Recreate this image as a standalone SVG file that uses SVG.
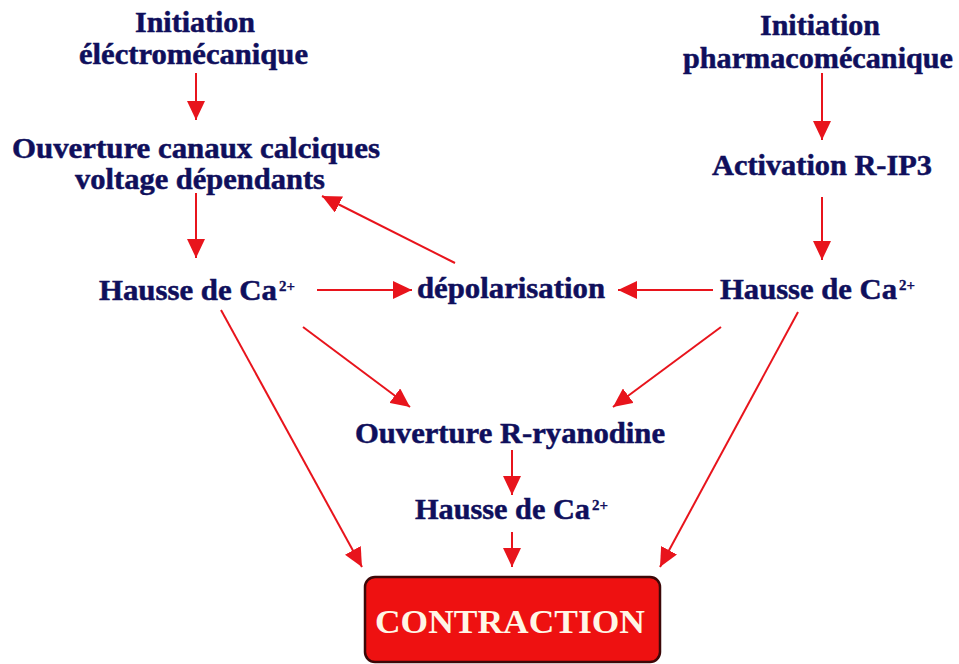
<svg xmlns="http://www.w3.org/2000/svg" width="959" height="664" viewBox="0 0 959 664">
<defs>
<style>
.t{font-family:"Liberation Serif","Times New Roman",serif;font-weight:bold;font-size:29px;fill:#0f0f5c;stroke:#0f0f5c;stroke-width:0.5;}
.sup{font-family:"Liberation Serif","Times New Roman",serif;font-weight:bold;font-size:15px;fill:#0f0f5c;stroke:#0f0f5c;stroke-width:0.3;}
.c{stroke:#e8141c;stroke-width:2;fill:none;marker-end:url(#ah);}
.box{fill:#ee1111;stroke:#3c0808;stroke-width:2.5;}
.ct{font-family:"Liberation Serif","Times New Roman",serif;font-weight:bold;font-size:34px;fill:#fff6e6;}
</style>
<marker id="ah" viewBox="0 0 19 18" refX="19" refY="9" markerWidth="19" markerHeight="18" markerUnits="userSpaceOnUse" orient="auto">
<path d="M0,0 L19,9 L0,18 z" fill="#e8141c"/>
</marker>
</defs>
<rect width="959" height="664" fill="#ffffff"/>
<g id="connectors">
<line class="c" x1="196" y1="73" x2="196" y2="120"/>
<line class="c" x1="196" y1="193" x2="196" y2="258"/>
<line class="c" x1="455" y1="263" x2="322" y2="196"/>
<line class="c" x1="317" y1="290" x2="412" y2="290"/>
<line class="c" x1="713" y1="290" x2="618" y2="290"/>
<line class="c" x1="822" y1="73" x2="822" y2="140"/>
<line class="c" x1="822" y1="197" x2="822" y2="260"/>
<line class="c" x1="303" y1="327" x2="410" y2="407"/>
<line class="c" x1="721" y1="327" x2="613" y2="407"/>
<line class="c" x1="221" y1="310" x2="362" y2="567"/>
<line class="c" x1="798" y1="312" x2="660" y2="567"/>
<line class="c" x1="512" y1="450" x2="512" y2="495"/>
<line class="c" x1="512" y1="532" x2="512" y2="567"/>
</g>
<g id="init-electro">
<text class="t" x="135" y="32" textLength="120" lengthAdjust="spacingAndGlyphs">Initiation</text>
<text class="t" x="79" y="64" textLength="229" lengthAdjust="spacingAndGlyphs">éléctromécanique</text>
</g>
<g id="ouverture-canaux">
<text class="t" x="12" y="158" textLength="368" lengthAdjust="spacingAndGlyphs">Ouverture canaux calciques</text>
<text class="t" x="75" y="189" textLength="250" lengthAdjust="spacingAndGlyphs">voltage dépendants</text>
</g>
<g id="hausse-left">
<text class="t" x="99" y="300" textLength="178" lengthAdjust="spacingAndGlyphs">Hausse de Ca</text>
<text class="sup" x="279" y="291" textLength="16" lengthAdjust="spacingAndGlyphs">2+</text>
</g>
<g id="depolarisation">
<text class="t" x="417" y="298" textLength="188" lengthAdjust="spacingAndGlyphs">dépolarisation</text>
</g>
<g id="init-pharmaco">
<text class="t" x="760" y="35" textLength="120" lengthAdjust="spacingAndGlyphs">Initiation</text>
<text class="t" x="683" y="68" textLength="270" lengthAdjust="spacingAndGlyphs">pharmacomécanique</text>
</g>
<g id="activation-rip3">
<text class="t" x="712" y="175" textLength="220" lengthAdjust="spacingAndGlyphs">Activation R-IP3</text>
</g>
<g id="hausse-right">
<text class="t" x="720" y="299" textLength="177" lengthAdjust="spacingAndGlyphs">Hausse de Ca</text>
<text class="sup" x="899" y="290" textLength="16" lengthAdjust="spacingAndGlyphs">2+</text>
</g>
<g id="ouverture-ryanodine">
<text class="t" x="355" y="443" textLength="310" lengthAdjust="spacingAndGlyphs">Ouverture R-ryanodine</text>
</g>
<g id="hausse-middle">
<text class="t" x="415" y="519" textLength="175" lengthAdjust="spacingAndGlyphs">Hausse de Ca</text>
<text class="sup" x="592" y="510" textLength="16" lengthAdjust="spacingAndGlyphs">2+</text>
</g>
<g id="contraction">
<rect class="box" x="365" y="577" width="295" height="85" rx="10"/>
<text class="ct" x="375" y="633" textLength="270" lengthAdjust="spacingAndGlyphs">CONTRACTION</text>
</g>
</svg>
